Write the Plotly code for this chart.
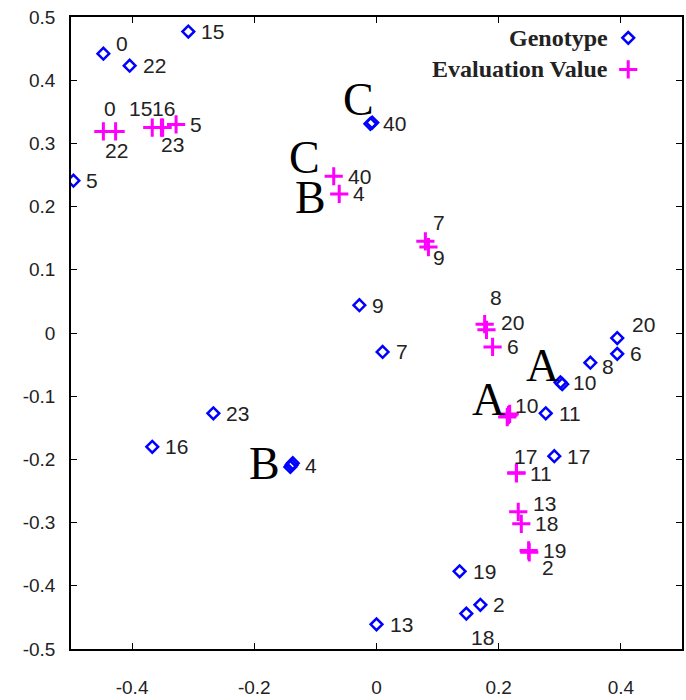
import plotly.graph_objects as go

# ---------------- data ----------------
geno_labels = ["0", "22", "15", "5", "40", "9", "7", "20", "6", "8",
               "10", "11", "23", "16", "4", "17", "19", "2", "18", "13"]
geno_x = [-0.447, -0.404, -0.308, -0.496, -0.010, -0.028, 0.010, 0.394, 0.394, 0.350,
          0.301, 0.277, -0.267, -0.367, -0.139, 0.291, 0.136, 0.170, 0.147, 0.000]
geno_y = [0.442, 0.423, 0.477, 0.241, 0.331, 0.044, -0.030, -0.008, -0.033, -0.047,
          -0.078, -0.127, -0.127, -0.180, -0.209, -0.195, -0.377, -0.430, -0.444, -0.461]
# additional genotypes lying on top of clusters C, A, B (unlabelled)
geno_dup_x = [-0.007, 0.304, -0.137, -0.141]
geno_dup_y = [0.333, -0.081, -0.206, -0.212]

eval_labels = ["0", "22", "15", "16", "23", "5", "40", "4", "7", "9",
               "8", "20", "6", "10", "17", "11", "13", "18", "19", "2"]
eval_x = [-0.447, -0.427, -0.367, -0.350, -0.352, -0.328, -0.070, -0.061, 0.080, 0.085,
          0.177, 0.180, 0.190, 0.216, 0.229, 0.229, 0.232, 0.237, 0.249, 0.250]
eval_y = [0.319, 0.319, 0.325, 0.325, 0.325, 0.330, 0.248, 0.220, 0.145, 0.136,
          0.014, 0.005, -0.022, -0.130, -0.221, -0.222, -0.283, -0.302, -0.344, -0.347]
eval_dup_x = [0.218, 0.214]
eval_dup_y = [-0.128, -0.133]

cluster_text = ["C", "C", "B", "A", "A", "B"]
cluster_x = [-0.029, -0.118, -0.108, 0.272, 0.183, -0.183]
cluster_y = [0.370, 0.277, 0.214, -0.052, -0.106, -0.206]

x_ticks = [-0.4, -0.2, 0, 0.2, 0.4]
y_ticks = [0.5, 0.4, 0.3, 0.2, 0.1, 0, -0.1, -0.2, -0.3, -0.4, -0.5]

legend_names = ["Genotype", "Evaluation Value"]

# ---------------- styles ----------------
BLUE = "#0000ff"
MAG = "#ff00ff"
NUMFONT = dict(family="Liberation Sans Narrow, Liberation Sans, Arial", size=21, color="#222")

# label offsets in pixels (dx right, dy down) relative to the mark
geno_off = {"0": (11, 10), "20": (13, 14), "8": (10, -4), "18": (3, -24)}
eval_off = {"0": (-1, 23), "22": (-13, -19), "15": (-25, 19), "16": (-13, 19),
            "23": (-2, -17), "7": (6, 19), "9": (3, -10), "8": (3, 27), "20": (13, 7),
            "10": (5, 10), "17": (-4, 16), "13": (13, 8), "2": (11, -15)}

geno_marker = dict(symbol="diamond-open", size=9, color=BLUE, line=dict(color=BLUE, width=2.5))
eval_marker = dict(symbol="cross-thin-open", size=13, color=MAG, line=dict(color=MAG, width=3))

fig = go.Figure()

fig.add_trace(go.Scatter(x=geno_x, y=geno_y, mode="markers", marker=geno_marker, showlegend=False))
fig.add_trace(go.Scatter(x=geno_dup_x, y=geno_dup_y, mode="markers",
                         marker=geno_marker, showlegend=False))
fig.add_trace(go.Scatter(x=eval_x, y=eval_y, mode="markers", marker=eval_marker, showlegend=False))
fig.add_trace(go.Scatter(x=eval_dup_x, y=eval_dup_y, mode="markers",
                         marker=eval_marker, showlegend=False))

for labels, xs, ys, offs, dflt in ((geno_labels, geno_x, geno_y, geno_off, (11, 0)),
                                   (eval_labels, eval_x, eval_y, eval_off, (12, 0))):
    for t, px, py in zip(labels, xs, ys):
        dx, dy = offs.get(t, dflt)
        fig.add_annotation(x=px, y=py, text=t, showarrow=False, xanchor="left", yanchor="middle",
                           xshift=dx, yshift=dy, font=NUMFONT)

# cluster letters
for t, cx, cy in zip(cluster_text, cluster_x, cluster_y):
    fig.add_annotation(x=cx, y=cy, text=t, showarrow=False,
                       font=dict(family="Liberation Serif, Times New Roman, serif", size=46, color="black"))

# manual legend (text left, symbol right) on an overlay axis in [0,1]
leg_y = [0.967, 0.917]
fig.add_trace(go.Scatter(x=[0.912], y=[leg_y[0]], xaxis="x2", yaxis="y2", mode="markers",
                         marker=geno_marker, showlegend=False))
fig.add_trace(go.Scatter(x=[0.912], y=[leg_y[1]], xaxis="x2", yaxis="y2", mode="markers",
                         marker=eval_marker, showlegend=False))
for name, ly in zip(legend_names, leg_y):
    fig.add_annotation(xref="x2", yref="y2", x=0.882, y=ly, xanchor="right", text=name,
                       showarrow=False,
                       font=dict(family="Liberation Serif, Times New Roman, serif", size=24,
                                 color="#222", weight="bold"))

axis_common = dict(showgrid=False, zeroline=False, showline=True, linecolor="black", linewidth=1.5,
                   mirror="allticks", ticks="inside", ticklen=6, tickcolor="black", tickwidth=1.2,
                   tickfont=dict(family="Liberation Sans, Arial", size=19, color="#222"))

fig.update_layout(
    width=686, height=700,
    margin=dict(l=71, r=2, t=17, b=43),
    paper_bgcolor="white", plot_bgcolor="white",
    xaxis=dict(range=[-0.5, 0.5], tickvals=x_ticks, ticktext=[f"{v:g}" for v in x_ticks],
               ticklabelstandoff=20, **axis_common),
    yaxis=dict(range=[-0.5, 0.5], tickvals=y_ticks, ticktext=[f"{v:g}" for v in y_ticks],
               ticklabelstandoff=10, **axis_common),
    xaxis2=dict(range=[0, 1], overlaying="x", visible=False),
    yaxis2=dict(range=[0, 1], overlaying="y", visible=False),
    showlegend=False,
)

fig.write_html("out.html")
